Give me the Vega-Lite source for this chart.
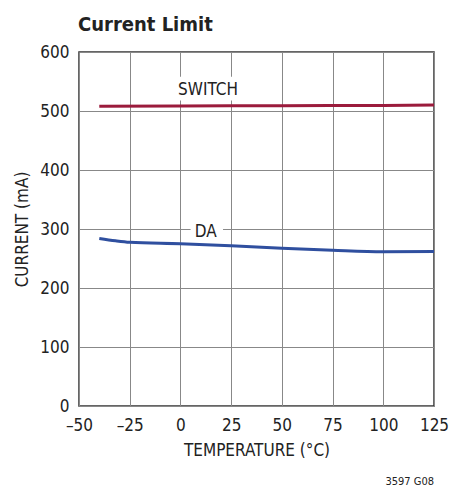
{
  "$schema": "https://vega.github.io/schema/vega-lite/v6.json",
  "width": 355,
  "height": 354,
  "autosize": "none",
  "padding": {"left": 79, "top": 52, "right": 15, "bottom": 84},
  "background": "white",
  "config": {
    "font": "DejaVu Sans Condensed, Liberation Sans, sans-serif",
    "view": {"stroke": "#333", "strokeWidth": 1.5},
    "axis": {"labelFont": "DejaVu Sans Condensed, Liberation Sans, sans-serif", "titleFont": "DejaVu Sans Condensed, Liberation Sans, sans-serif", "labelFontSize": 17, "titleFontSize": 17, "labelColor": "#222", "titleColor": "#222", "titleFontWeight": "normal", "gridColor": "#888", "gridOpacity": 1, "gridWidth": 1, "domain": false, "ticks": false}
  },
  "title": {"text": "Current Limit", "anchor": "start", "frame": "group", "fontSize": 20, "font": "DejaVu Sans Condensed, Liberation Sans, sans-serif", "fontWeight": "bold", "color": "#222", "offset": 8, "baseline": "alphabetic", "dx": -1, "dy": 16},
  "datasets": {
    "curves": [
      {"t": -40, "i": 508, "s": "SWITCH"},
      {"t": 0, "i": 508.5, "s": "SWITCH"},
      {"t": 50, "i": 509, "s": "SWITCH"},
      {"t": 100, "i": 509.5, "s": "SWITCH"},
      {"t": 125, "i": 510, "s": "SWITCH"},
      {"t": -40, "i": 284, "s": "DA"},
      {"t": -32, "i": 280, "s": "DA"},
      {"t": -25, "i": 277.5, "s": "DA"},
      {"t": 0, "i": 275, "s": "DA"},
      {"t": 25, "i": 271.5, "s": "DA"},
      {"t": 50, "i": 267.5, "s": "DA"},
      {"t": 75, "i": 264, "s": "DA"},
      {"t": 100, "i": 261.5, "s": "DA"},
      {"t": 125, "i": 262, "s": "DA"}
    ],
    "labels": [
      {"t": 13.6, "i": 535, "text": "SWITCH", "x1": -3, "x2": 30, "y1": 518, "y2": 558},
      {"t": 12.5, "i": 295, "text": "DA", "x1": 5, "x2": 21, "y1": 282, "y2": 308}
    ]
  },
  "layer": [
    {
      "data": {"name": "labels"},
      "mark": {"type": "rect", "color": "white"},
      "encoding": {
        "x": {"field": "x1", "type": "quantitative", "scale": {"domain": [-50, 125], "nice": false}, "axis": {"values": [-50, -25, 0, 25, 50, 75, 100, 125], "title": "TEMPERATURE (°C)", "labelPadding": 11, "titlePadding": 9, "labelFlush": false, "labelOverlap": false, "labelExpr": "replace(replace(datum.label, '-', '–'), '−', '–')"}},
        "x2": {"field": "x2"},
        "y": {"field": "y1", "type": "quantitative", "scale": {"domain": [0, 600], "nice": false}, "axis": {"values": [0, 100, 200, 300, 400, 500, 600], "title": "CURRENT (mA)", "labelPadding": 10, "titlePadding": 8, "labelFlush": false}},
        "y2": {"field": "y2"}
      }
    },
    {
      "data": {"name": "curves"},
      "mark": {"type": "line", "strokeWidth": 3, "interpolate": "monotone"},
      "encoding": {
        "x": {"field": "t", "type": "quantitative"},
        "y": {"field": "i", "type": "quantitative"},
        "detail": {"field": "s"},
        "color": {"field": "s", "type": "nominal", "scale": {"domain": ["SWITCH", "DA"], "range": ["#9b1b3c", "#2f4f9f"]}, "legend": null}
      }
    },
    {
      "data": {"name": "labels"},
      "mark": {"type": "text", "fontSize": 17, "color": "#222", "baseline": "middle", "align": "center"},
      "encoding": {
        "x": {"field": "t", "type": "quantitative"},
        "y": {"field": "i", "type": "quantitative"},
        "text": {"field": "text"}
      }
    },
    {
      "data": {"values": [{"t": 125, "i": -128, "text": "3597 G08"}]},
      "mark": {"type": "text", "fontSize": 11, "color": "#222", "align": "right", "baseline": "middle", "clip": false, "dx": 0},
      "encoding": {
        "x": {"field": "t", "type": "quantitative"},
        "y": {"field": "i", "type": "quantitative"},
        "text": {"field": "text"}
      }
    }
  ]
}
